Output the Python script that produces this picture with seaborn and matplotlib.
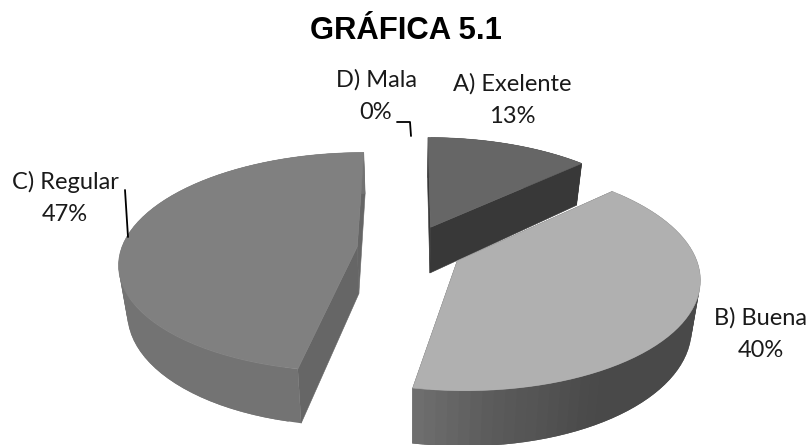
import numpy as np
import matplotlib
matplotlib.use("Agg")
import matplotlib.pyplot as plt
import seaborn as sns

title = "GRÁFICA 5.1"
categories = ["A) Exelente", "B) Buena", "C) Regular", "D) Mala"]
percent = [13, 40, 47, 0]

sns.set_theme(style="white")
fig, ax = plt.subplots(figsize=(8.1, 4.45), dpi=100)
ax.set_position([0, 0, 1, 1])
ax.set_xlim(0, 810)
ax.set_ylim(445, 0)
ax.axis("off")

# perspective projection of the pie plane
CX, CY, RX, RY, K, DEPTH, SHRINK, EXPLODE = 410, 249, 236, 108, 0.14, 47, 0.03, 0.225

def project(X, Y, bottom=False):
    s = 1 / (1 + K * Y)
    x = CX + RX * X * s
    y = CY - RY * Y * s
    if bottom:
        x = CX + (x - CX) * (1 - SHRINK)
        y = y + DEPTH * s
    return x, y

top_colors = ["#666666", "#b0b0b0", "#808080"]
radial_colors = ["#383838", "#505050", "#666666"]
# side shading: angle stops (deg) and grey levels along the rim
side_stops = [
    ([0, 90], [0.22, 0.22]),
    ([-101, -85, -60, 45], [0.44, 0.36, 0.285, 0.285]),
    ([90, 180, 225, 260], [0.45, 0.47, 0.40, 0.32]),
]

edges = 90 - 3.6 * np.cumsum([0] + percent)
order = [0, 2, 1]
for i in order:
    a0, a1 = np.radians(edges[i]), np.radians(edges[i + 1])
    mid = (a0 + a1) / 2
    ox, oy = EXPLODE * np.cos(mid), EXPLODE * np.sin(mid)
    t = np.linspace(a0, a1, 61)
    X, Y = ox + np.cos(t), oy + np.sin(t)
    xt, yt = project(X, Y)
    xb, yb = project(X, Y, bottom=True)

    # radial walls go first, the rim covers them where it is nearer
    cxx, cyy = project(np.array([ox]), np.array([oy]))
    cbx, cby = project(np.array([ox]), np.array([oy]), bottom=True)
    for k in (0, -1):
        ax.fill([cxx[0], xt[k], xb[k], cbx[0]],
                [cyy[0], yt[k], yb[k], cby[0]],
                color=radial_colors[i], lw=0.4, zorder=2)

    # rim, in overlapping shaded strips
    stops = side_stops[i]
    for j in range(len(t) - 1):
        deg = np.degrees((t[j] + t[j + 1]) / 2)
        g = np.interp(deg, stops[0], stops[1])
        n = min(j + 2, len(t) - 1)
        ax.fill([xt[j], xt[n], xb[n], xb[j]],
                [yt[j], yt[n], yb[n], yb[j]],
                color=(g, g, g), lw=0, zorder=2)

    # top surface
    ax.fill(np.r_[cxx, xt], np.r_[cyy, yt], color=top_colors[i], lw=0.4, zorder=3)

label_font = "Lato"
label_pos = [(512, 100), (761, 334), (65, 198), (376, 96)]
for name, v, (lx, ly) in zip(categories, percent, label_pos):
    ax.text(lx, ly, f"{name}\n{v}%", ha="center", va="center", fontsize=17,
            family=label_font, color="#1a1a1a", linespacing=1.62, zorder=5)

# leader lines
ax.plot([125, 128], [190, 237], color="black", lw=1.3, zorder=4)
ax.plot([397, 410, 411], [122, 122, 136], color="black", lw=1.3, zorder=4)

ax.text(406, 31, title, ha="center", va="center", fontsize=22.3, fontweight="bold",
        family="Liberation Sans", color="black")

fig.savefig("out.png", dpi=100, facecolor="white")
